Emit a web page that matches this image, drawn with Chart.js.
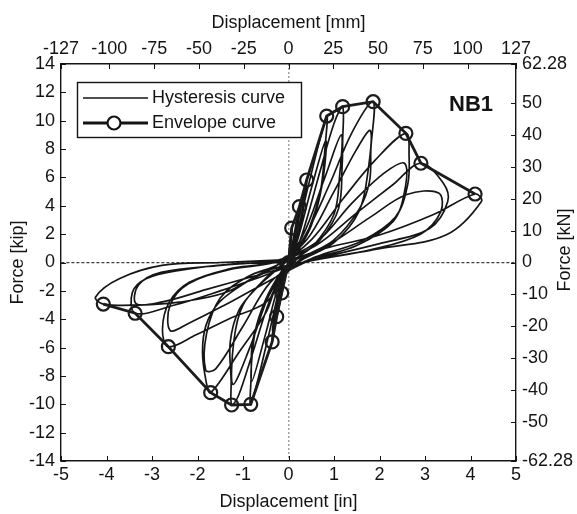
<!DOCTYPE html>
<html>
<head>
<meta charset="utf-8">
<script src="https://cdn.jsdelivr.net/npm/chart.js@4/dist/chart.umd.min.js"></script>
<style>
  body { margin: 0; background: #fff; }
  #wrap { width: 577px; height: 514px; }
</style>
</head>
<body>
<div id="wrap"><canvas id="chart" width="577" height="514"></canvas></div>
<script>
// tick labels
const inTicks = [-5, -4, -3, -2, -1, 0, 1, 2, 3, 4, 5];
const mmTicks = [-127, -100, -75, -50, -25, 0, 25, 50, 75, 100, 127];
const kipTicks = [-14, -12, -10, -8, -6, -4, -2, 0, 2, 4, 6, 8, 10, 12, 14];
const kNTicks = [-62.28, -50, -40, -30, -20, -10, 0, 10, 20, 30, 40, 50, 62.28];

// envelope curve (displacement in, force kip)
const envDisp  = [-4.07, -3.37, -2.64, -1.71, -1.25, -0.83, -0.36, -0.26, -0.15, 0, 0.07, 0.24, 0.40, 0.84, 1.19, 1.86, 2.58, 2.91, 4.10];
const envForce = [-2.93, -3.58, -5.94, -9.18, -10.05, -10.0, -5.6, -3.82, -2.15, 0, 2.43, 3.94, 5.82, 10.33, 10.99, 11.34, 9.11, 7.0, 4.83];

// hysteresis loops, one list per amplitude level [in, kip]
const loop010 = [[0,0],[0.03,1.2],[0.07,2.43],[0.04,1.1],[0.0,0.2],[-0.07,-1.0],[-0.15,-2.15],[-0.08,-0.9],[0,0.1]];
const loop025 = [[0.1,1.6],[0.24,3.94],[0.16,2.0],[0.03,0.4],[-0.1,-1.5],[-0.26,-3.82],[-0.17,-1.9],[-0.02,-0.2],
  [0.1,1.3],[0.23,3.3],[0.14,1.6],[0.0,0.2],[-0.12,-1.4],[-0.25,-3.2],[-0.15,-1.5],[0,0]];
const loop040 = [[0.18,2.4],[0.40,5.82],[0.3,3.3],[0.1,0.9],[-0.12,-1.2],[-0.36,-5.6],[-0.27,-3.0],[-0.05,-0.4],
  [0.2,2.1],[0.38,5.0],[0.27,2.7],[0.06,0.5],[-0.17,-1.8],[-0.35,-4.8],[-0.24,-2.4],[0,-0.1]];
const loop085 = [[0.15,1.5],[0.45,5.6],[0.84,10.33],[0.8,8.0],[0.7,5.0],[0.45,2.4],[0.15,0.5],[-0.1,-0.6],[-0.2,-1.8],[-0.5,-6.0],[-0.83,-10.0],
  [-0.82,-8.0],[-0.79,-5.6],[-0.57,-3.3],[-0.27,-1.4],[0,-0.1],
  [0.2,1.6],[0.5,5.2],[0.82,8.6],[0.74,5.5],[0.5,2.6],[0.15,0.5],[-0.2,-1.5],[-0.5,-5.0],[-0.81,-8.4],[-0.74,-5.0],[-0.5,-2.6],[-0.15,-0.6],[0.05,0.1]];
const loop120 = [[0.3,2.0],[0.7,6.5],[1.0,9.8],[1.19,10.99],[1.19,8.5],[1.18,6.9],[1.1,3.8],[0.7,1.6],[0.2,0.3],[-0.3,-1.8],[-0.8,-6.5],[-1.1,-9.4],[-1.25,-10.05],
  [-1.26,-8.4],[-1.28,-5.6],[-1.08,-3.3],[-0.64,-1.6],[-0.2,-0.3],
  [0.3,1.8],[0.8,6.0],[1.16,9.0],[1.12,6.0],[1.0,3.4],[0.55,1.2],[0.1,0.1],[-0.35,-1.7],[-0.85,-6.0],[-1.22,-8.6],[-1.2,-5.5],[-1.0,-3.0],[-0.5,-1.1],[-0.1,-0.1]];
const loop180 = [[0.35,1.8],[0.9,5.5],[1.4,9.2],[1.86,11.34],[1.81,8.0],[1.78,5.7],[1.56,3.8],[1.0,1.6],[0.3,0.3],[-0.2,-1.2],[-0.49,-3.5],[-1.08,-6.3],[-1.71,-9.18],
  [-1.81,-8.4],[-1.89,-6.3],[-1.81,-4.4],[-1.52,-2.8],[-0.93,-1.4],[-0.3,-0.3],
  [0.4,1.6],[1.0,5.0],[1.5,8.0],[1.8,9.3],[1.75,6.5],[1.55,3.6],[1.0,1.4],[0.3,0.2],[-0.4,-1.4],[-1.0,-4.5],[-1.6,-7.5],[-1.82,-7.6],[-1.8,-5.0],[-1.5,-2.5],[-0.9,-1.0],[-0.2,-0.1]];
const loop260 = [[0.5,1.6],[1.2,4.5],[1.9,7.2],[2.58,9.11],[2.65,7.5],[2.62,5.5],[2.35,3.2],[1.6,1.5],[0.6,0.4],[0,-0.6],[-0.49,-2.8],[-1.3,-3.96],[-2.03,-5.1],[-2.64,-5.94],
  [-2.77,-4.7],[-2.62,-2.8],[-2.18,-1.4],[-1.3,-0.45],[-0.4,0],
  [0.6,1.4],[1.4,4.2],[2.1,6.3],[2.55,7.0],[2.55,5.0],[2.3,2.9],[1.5,1.2],[0.5,0.2],[-0.6,-1.6],[-1.4,-3.0],[-2.2,-4.3],[-2.6,-4.8],[-2.6,-3.0],[-2.2,-1.5],[-1.3,-0.5],[-0.3,0]];
const loop340 = [[0.6,1.2],[1.5,3.5],[2.3,5.5],[2.91,7.0],[3.4,5.6],[3.5,4.3],[3.1,2.4],[2.0,1.33],[0.8,0.4],[0,-0.3],[-0.6,-1.0],[-1.5,-2.0],[-2.5,-3.0],[-3.37,-3.58],
  [-3.43,-2.1],[-3.13,-1.14],[-2.4,-0.55],[-1.2,-0.1],[0,0.1],
  [0.8,1.1],[1.8,3.2],[2.6,4.8],[3.3,4.9],[3.35,3.6],[2.9,2.0],[1.8,0.9],[0.6,0.2],[-0.8,-1.0],[-1.8,-1.9],[-2.8,-2.8],[-3.35,-2.9],[-3.3,-1.6],[-2.8,-0.7],[-1.5,-0.2],[0,0.2]];
const loop420 = [[0.8,1.0],[2.0,1.94],[3.2,3.4],[4.10,4.83],[4.24,4.3],[3.47,1.95],[2.0,0.97],[0.8,0.3],[0,-0.2],[-0.5,-0.6],[-1.37,-2.1],[-2.4,-2.8],[-3.3,-3.0],[-4.07,-2.93],
  [-4.24,-2.43],[-3.72,-1.14],[-2.78,-0.2],[-1.5,0.0],[0,0.2]];

const hystPts = [loop010, loop025, loop040, loop085, loop120, loop180, loop260, loop340, loop420]
  .flat().map(p => ({ x: p[0], y: p[1] }));
const envPts = envDisp.map((d, i) => ({ x: d, y: envForce[i] }));

const FONT = '"Liberation Sans", Arial, sans-serif';
const INK = '#141414';

function setTicks(values) {
  return function (scale) { scale.ticks = values.map(v => ({ value: v })); };
}

// MATLAB style inward tick marks, legend box, panel tag and right axis title
const decorations = {
  id: 'decorations',
  afterDatasetsDraw(chart) {
    const { ctx, chartArea: a, scales } = chart;
    ctx.save();
    ctx.strokeStyle = INK;
    ctx.lineWidth = 1;
    ctx.beginPath();
    ['x', 'x2'].forEach(id => {
      const s = scales[id];
      s.ticks.forEach(t => {
        const px = Math.round(s.getPixelForValue(t.value)) + 0.5;
        if (id === 'x') { ctx.moveTo(px, a.bottom); ctx.lineTo(px, a.bottom - 5); }
        else { ctx.moveTo(px, a.top); ctx.lineTo(px, a.top + 5); }
      });
    });
    ['y', 'y2'].forEach(id => {
      const s = scales[id];
      s.ticks.forEach(t => {
        const py = Math.round(s.getPixelForValue(t.value)) + 0.5;
        if (id === 'y') { ctx.moveTo(a.left, py); ctx.lineTo(a.left + 5, py); }
        else { ctx.moveTo(a.right, py); ctx.lineTo(a.right - 5, py); }
      });
    });
    ctx.stroke();

    // legend
    const lx = a.left + 16, ly = a.top + 18, lw = 224, lh = 55;
    ctx.fillStyle = '#fff';
    ctx.fillRect(lx, ly, lw, lh);
    ctx.lineWidth = 1.4;
    ctx.strokeRect(lx + 0.5, ly + 0.5, lw, lh);
    ctx.beginPath();
    ctx.lineWidth = 1.7;
    ctx.moveTo(lx + 6, ly + 16); ctx.lineTo(lx + 71, ly + 16);
    ctx.stroke();
    ctx.beginPath();
    ctx.lineWidth = 2.8;
    ctx.moveTo(lx + 6, ly + 41); ctx.lineTo(lx + 71, ly + 41);
    ctx.stroke();
    ctx.beginPath();
    ctx.fillStyle = '#fff';
    ctx.lineWidth = 2.2;
    ctx.arc(lx + 37, ly + 41, 6.5, 0, Math.PI * 2);
    ctx.fill(); ctx.stroke();
    ctx.fillStyle = INK;
    ctx.font = '18px ' + FONT;
    ctx.textBaseline = 'middle';
    ctx.textAlign = 'left';
    ctx.fillText('Hysteresis curve', lx + 75, ly + 16);
    ctx.fillText('Envelope curve', lx + 75, ly + 41);

    // panel tag
    ctx.font = 'bold 22px ' + FONT;
    ctx.textAlign = 'center';
    ctx.fillText('NB1', 471, 105);

    // right axis title, reading bottom to top
    ctx.translate(565, 250);
    ctx.rotate(-Math.PI / 2);
    ctx.font = '18px ' + FONT;
    ctx.fillText('Force [kN]', 0, 0);
    ctx.restore();
  }
};

const tickFont = { family: FONT, size: 18 };
const axisBorder = { color: INK, width: 1.4 };

new Chart(document.getElementById('chart'), {
  type: 'scatter',
  data: {
    datasets: [
      {
        label: 'Envelope curve',
        data: envPts,
        showLine: true,
        order: 0,
        borderColor: '#1c1c1c',
        borderWidth: 2.8,
        pointRadius: 6.5,
        pointBorderWidth: 2.2,
        pointBorderColor: '#1c1c1c',
        pointBackgroundColor: 'rgba(0,0,0,0)',
        tension: 0
      },
      {
        label: 'Hysteresis curve',
        data: hystPts,
        showLine: true,
        order: 1,
        borderColor: '#161616',
        borderWidth: 1.7,
        pointRadius: 0,
        tension: 0.35
      }
    ]
  },
  options: {
    responsive: false,
    animation: false,
    events: [],
    layout: { padding: 0 },
    plugins: { legend: { display: false }, tooltip: { enabled: false } },
    scales: {
      x: {
        type: 'linear', position: 'bottom', min: -5, max: 5,
        afterBuildTicks: setTicks(inTicks),
        afterFit: s => { s.height = 53; },
        ticks: { font: tickFont, color: INK, padding: 3, maxRotation: 0, callback: v => String(v) },
        grid: {
          drawTicks: false,
          color: c => (c.tick && c.tick.value === 0 ? 'rgba(140,140,140,0.8)' : 'rgba(0,0,0,0)'),
          lineWidth: 1.5
        },
        border: { color: INK, width: 1.4, dash: [2, 2] },
        title: { display: true, text: 'Displacement [in]', font: tickFont, color: INK, padding: { top: 0, bottom: 1 } }
      },
      x2: {
        type: 'linear', position: 'top', min: -127, max: 127,
        afterBuildTicks: setTicks(mmTicks),
        afterFit: s => { s.height = 64; },
        ticks: { font: tickFont, color: INK, padding: 4, maxRotation: 0, callback: v => String(v) },
        grid: { drawTicks: false, drawOnChartArea: false },
        border: axisBorder,
        title: { display: true, text: 'Displacement [mm]', font: tickFont, color: INK, padding: { top: 12, bottom: 0 } }
      },
      y: {
        type: 'linear', position: 'left', min: -14, max: 14,
        afterBuildTicks: setTicks(kipTicks),
        afterFit: s => { s.width = 61; },
        ticks: { font: tickFont, color: INK, padding: 6, callback: v => String(v) },
        grid: {
          drawTicks: false,
          color: c => (c.tick && c.tick.value === 0 ? 'rgba(40,40,40,0.9)' : 'rgba(0,0,0,0)'),
          lineWidth: 1.2
        },
        border: { color: INK, width: 1.4, dash: [3, 2] },
        title: { display: true, text: 'Force [kip]', font: tickFont, color: INK, padding: { top: 7, bottom: 0 } }
      },
      y2: {
        type: 'linear', position: 'right', min: -62.28, max: 62.28,
        afterBuildTicks: setTicks(kNTicks),
        afterFit: s => { s.width = 61; },
        ticks: { font: tickFont, color: INK, padding: 6, callback: v => String(v) },
        grid: { drawTicks: false, drawOnChartArea: false },
        border: axisBorder,
        title: { display: false }
      }
    }
  },
  plugins: [decorations]
});
</script>
</body>
</html>
